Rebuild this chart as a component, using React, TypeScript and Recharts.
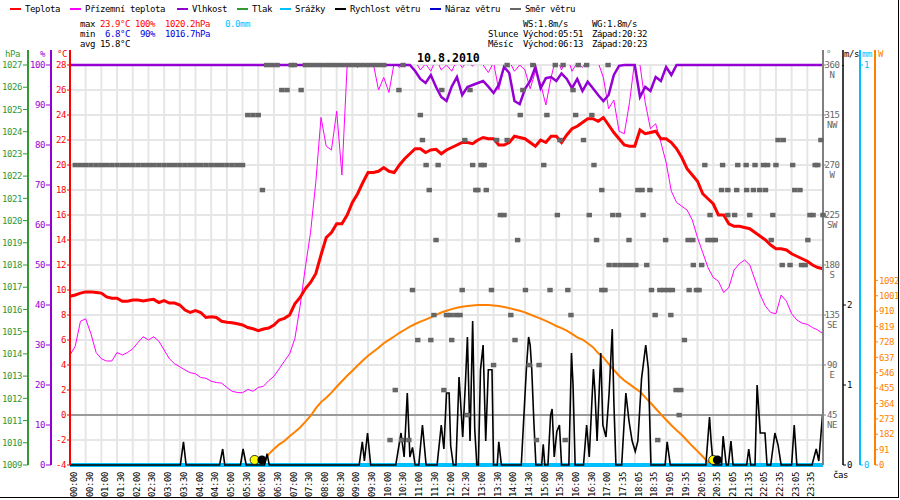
import React from "react";
import {
  ComposedChart,
  Line,
  Scatter,
  XAxis,
  YAxis,
  CartesianGrid,
  ReferenceLine,
} from "recharts";

const FONT = "'DejaVu Sans Mono', monospace";

// x axis: one slot = 10 minutes, label every 3 slots
const timeLabels = [
  "00:00", "00:30", "01:00", "01:30", "02:00", "02:30", "03:00", "03:30",
  "04:00", "04:30", "05:00", "05:30", "06:00", "06:30", "07:00", "07:30",
  "08:00", "08:30", "09:00", "09:30", "10:00", "10:30", "11:00", "11:30",
  "12:00", "12:30", "13:00", "13:30", "14:00", "14:30", "15:00", "15:30",
  "16:00", "16:30", "17:00", "17:35", "18:05", "18:35", "19:05", "19:35",
  "20:05", "20:35", "21:05", "21:35", "22:05", "22:35", "23:05", "23:35",
];

const tempTicks = [-4, -2, 0, 2, 4, 6, 8, 10, 12, 14, 16, 18, 20, 22, 24, 26, 28];
const humTicks = [0, 10, 20, 30, 40, 50, 60, 70, 80, 90, 100];
const hpaTicks = [1009, 1010, 1011, 1012, 1013, 1014, 1015, 1016, 1017, 1018, 1019, 1020, 1021, 1022, 1023, 1024, 1025, 1026, 1027];
const dirTicks = [45, 90, 135, 180, 225, 270, 315, 360];
const dirNames = ["NE", "E", "SE", "S", "SW", "W", "NW", "N"];
const msTicks = [0, 1, 2];
const mmTicks = [0, 1];
const wTicks = [0, 91, 182, 273, 364, 455, 546, 637, 728, 819, 910, 1001, 1092];

// °C, one value per 10-minute slot (0..144)
const temperature = [
  9.5, 9.6, 9.75, 9.85, 9.85, 9.8, 9.75, 9.45, 9.35, 9.35,
  9.1, 9.1, 9.2, 9.2, 9.12, 9.2, 9.25, 9.0, 9.15, 8.96,
  8.96, 8.8, 8.4, 8.2, 8.35, 8.2, 7.8, 7.85, 7.8, 7.5,
  7.42, 7.38, 7.3, 7.2, 7.0, 6.9, 6.75, 6.88, 6.96, 7.2,
  7.6, 7.73, 8.0, 8.9, 9.4, 10.1, 10.6, 11.3, 12.8, 14.2,
  14.6, 15.3, 15.3, 16.0, 17.0, 17.7, 18.6, 19.4, 19.4, 19.5,
  19.8, 19.5, 19.4, 20.0, 20.5, 20.9, 21.3, 21.3, 21.0, 21.2,
  21.25, 20.9, 21.2, 21.4, 21.6, 21.8, 21.8, 21.7, 22.0, 22.2,
  22.1, 22.1, 21.6, 21.6, 21.8, 22.3, 22.2, 22.1, 21.8, 21.5,
  22.0, 21.8, 22.3, 22.3, 21.8, 22.4, 22.9, 23.1, 23.4, 23.7,
  23.7, 23.5, 23.8, 23.2, 22.6, 22.1, 21.6, 21.5, 21.5, 22.8,
  22.5, 22.6, 22.7, 22.1, 22.1, 21.8, 21.3, 20.6, 19.7, 19.2,
  18.7, 17.7, 17.3, 16.9, 16.0, 16.0, 15.3, 15.1, 15.1, 15.0,
  14.9, 14.6, 14.3, 14.0, 13.6, 13.3, 13.3, 13.2, 12.9, 12.7,
  12.5, 12.3, 12.0, 11.8, 11.7,
];

const groundTemp = [
  4.8, 5.5, 7.5, 7.7, 6.5, 5.0, 4.5, 4.32, 4.32, 5.0,
  4.8, 5.0, 5.3, 5.8, 6.26, 6.0, 6.26, 5.9, 5.2, 4.5,
  4.1, 3.86, 3.6, 3.38, 3.3, 3.0, 2.94, 2.7, 2.6, 2.55,
  2.2, 1.9, 1.8, 1.78, 2.05, 1.9, 2.2, 2.3, 2.75, 3.1,
  3.7, 4.3, 4.9, 6.1, 8.7, 11.8, 14.6, 18.6, 23.8, 21.5,
  21.2, 24.3, 19.2, 28.0, 28.2, 27.8, 28.3, 28.5, 28.1, 26.0,
  27.0, 25.8, 28.2, 27.8, 28.6, 28.0, 28.3, 27.6, 28.1, 27.5,
  28.5, 27.6, 28.0, 27.5, 28.4, 27.8, 28.3, 27.9, 28.5, 28.0,
  27.4, 28.2, 26.0, 27.8, 28.3, 27.5, 28.0, 27.6, 26.1, 27.5,
  26.5, 24.8, 27.0, 28.7, 27.6, 28.8, 27.5, 28.2, 27.8, 28.5,
  28.6, 28.2, 27.0, 24.5, 25.2, 22.7, 22.5, 25.0, 28.4, 28.0,
  25.0, 22.9, 23.3, 21.8, 20.2, 17.9, 17.0, 16.7, 16.4, 15.6,
  14.2, 13.0, 11.8, 11.0, 10.7, 9.8, 10.2, 11.6, 12.1, 12.4,
  12.0, 10.8, 9.6, 8.7, 8.2, 8.1, 9.6, 9.1, 8.1, 7.6,
  7.35, 7.25, 7.0, 6.8, 6.5,
];

const humidity = [
  100, 100, 100, 100, 100, 100, 100, 100, 100, 100,
  100, 100, 100, 100, 100, 100, 100, 100, 100, 100,
  100, 100, 100, 100, 100, 100, 100, 100, 100, 100,
  100, 100, 100, 100, 100, 100, 100, 100, 100, 100,
  100, 100, 100, 100, 100, 100, 100, 100, 100, 100,
  100, 100, 100, 100, 100, 100, 100, 100, 100, 100,
  100, 100, 100, 100, 100, 100, 98.5, 96.5, 95.5, 97.5,
  94.5, 92, 91, 94.6, 97, 92.5, 94.5, 95, 95.5, 96,
  94.6, 93, 95, 99.5, 98, 91, 90.2, 94, 96, 99.5,
  94.2, 96.7, 97, 96, 97.9, 96.5, 94.2, 96.5, 93.5, 95.8,
  94.2, 92.5, 91, 92.5, 97.5, 99.8, 100, 100, 100, 92,
  94.5, 93.5, 97, 96, 99.5, 97.5, 100, 100, 100, 100,
  100, 100, 100, 100, 100, 100, 100, 100, 100, 100,
  100, 100, 100, 100, 100, 100, 100, 100, 100, 100,
  100, 100, 100, 100, 100,
];

// solar radiation W/m², from slot 37 (sunrise) to 123 (sunset)
const SOLAR_FIRST_SLOT = 37;
const solar = [
  15, 65, 95, 122, 142, 170, 195, 222, 255, 290,
  335, 372, 398, 428, 463, 495, 528, 558, 588, 618,
  646, 670, 693, 720, 740, 760, 782, 800, 818, 834,
  848, 860, 873, 888, 902, 912, 922, 930, 936, 940,
  944, 946, 946, 946, 943, 940, 935, 928, 920, 912,
  903, 890, 878, 866, 852, 838, 822, 810, 795, 776,
  755, 742, 720, 697, 662, 636, 598, 562, 528, 500,
  478, 455, 434, 400, 368, 334, 300, 268, 235, 205,
  178, 145, 112, 82, 50, 18, 0,
];

// [slot, m/s]
const windSpeed: [number, number][] = [
  [0, 0],
  [21.1, 0], [21.7, 0.29], [22.2, 0],
  [28.6, 0], [29.2, 0.2], [29.6, 0],
  [32.6, 0], [33.1, 0.2], [33.7, 0],
  [37.2, 0], [37.7, 0.14], [38.1, 0],
  [55.3, 0], [55.9, 0.29], [56.3, 0.05], [56.9, 0.4], [57.5, 0],
  [62.3, 0], [63.3, 0.4], [63.9, 0.1], [64.5, 0.9], [65, 0.1], [65.5, 0.22], [66, 0],
  [66.7, 0], [67.4, 0.5], [68.1, 0],
  [70.2, 0], [71, 0.5], [71.5, 0.2], [72, 0.9], [72.5, 0.9], [72.8, 0.24], [73.3, 0],
  [73.8, 0], [74.4, 1.1], [75.1, 0.35], [75.6, 1], [76, 1.6], [76.5, 0.3], [77, 1.8], [77.4, 0.45], [77.8, 0],
  [78.1, 0], [78.5, 1.19], [79, 1.5], [79.5, 0.3], [80, 1.19], [80.7, 1.19], [81, 0],
  [81.7, 0], [82, 0.29], [82.5, 0],
  [86.3, 0], [87.3, 1.23], [87.7, 1.6], [88, 1.5], [88.3, 1.2], [88.7, 0.55], [89.1, 0],
  [90.2, 0], [90.5, 0.26], [90.8, 0],
  [91.4, 0], [91.9, 0.62], [92.2, 0.7], [92.6, 0.1], [93.1, 0.42], [93.6, 0.5], [94, 0],
  [95.4, 0], [95.9, 1.4], [96.2, 1], [96.6, 0],
  [98.2, 0], [98.8, 0.5], [99.3, 0.1], [100.1, 1.2], [100.4, 0.9], [100.8, 0.3], [101.5, 1.4], [101.9, 0.5],
  [102.5, 0.35], [103.1, 0.9], [103.7, 1.7], [104, 0.8], [104.4, 0],
  [105.5, 0], [106.3, 0.9], [106.9, 0.55], [107.5, 0.3], [108.1, 0.17], [108.6, 0.3], [109.3, 1.08], [110.1, 1.5], [110.6, 1.2], [111.1, 0],
  [113.8, 0], [114.2, 0.29], [114.8, 0],
  [121.6, 0], [122.3, 0.6], [122.6, 0.3], [123, 0],
  [124.6, 0], [124.9, 0.36], [125.5, 0],
  [125.9, 0], [126.4, 0.3], [126.8, 0],
  [129.4, 0], [129.8, 0.2], [130.2, 0],
  [131, 0], [131.4, 1], [132, 0.4], [132.9, 0.4], [133.3, 0],
  [134, 0], [134.8, 0.4], [135.4, 0.25], [136, 0],
  [138, 0], [138.5, 0.5], [139, 0],
  [141.9, 0], [142.7, 0.2], [143.2, 0.05], [143.9, 0.62],
];

// [slot, degrees]
const windDirection: [number, number][] = [
  [1, 270], [2, 270], [3, 270], [4, 270], [5, 270], [6, 270], [7, 270], [8, 270], [9, 270], [10, 270],
  [11, 270], [12, 270], [13, 270], [14, 270], [15, 270], [16, 270], [17, 270], [18, 270], [19, 270], [20, 270],
  [21, 270], [22, 270], [23, 270], [24, 270], [25, 270], [26, 270], [27, 270], [28, 270], [29, 270], [30, 270],
  [31, 270], [32, 270], [33, 270],
  [34, 315], [35, 315], [36, 315], [36.8, 247.5],
  [37.6, 360], [38.6, 360], [39.6, 360], [40.5, 337.5], [41.5, 337.5], [42.3, 360], [42.9, 360], [44.2, 337.5],
  [45, 360], [46, 360], [47, 360], [48, 360], [49, 360], [50, 360], [51, 360], [52, 360],
  [53, 360], [54, 360], [55, 360], [56, 360], [57, 360], [58, 360], [59, 360], [60, 360],
  [61.2, 22.5], [62.2, 67.5], [62.9, 337.5], [63.4, 22.5], [63.7, 360], [64.8, 22.5], [65.5, 157.5], [66.5, 112.5],
  [67, 315], [67.4, 292.5], [68.1, 270], [68.7, 247.5], [69, 112.5], [69.6, 135], [70, 202.5], [70.4, 270],
  [71.1, 337.5], [71.5, 67.5], [72, 135], [72.8, 135], [73, 112.5], [73.8, 135], [74.6, 135], [75, 157.5],
  [75.5, 292.5], [76, 45], [76.5, 337.5], [77, 270], [77.6, 247.5], [78, 247.5], [78.6, 270], [79.2, 270],
  [79.6, 247.5], [80.6, 157.5], [81, 90], [81.6, 292.5], [82.3, 225], [83, 225], [83.6, 360], [83.6, 292.5],
  [84.3, 135], [85.1, 112.5], [85.6, 202.5], [86.1, 315], [86.6, 337.5], [87.1, 157.5], [87.8, 90], [88.5, 360],
  [89.2, 22.5], [89.7, 90], [90.6, 270], [91.2, 315], [91.8, 157.5], [92.8, 360], [93.2, 225], [93.7, 292.5],
  [94.3, 360], [94.7, 22.5], [95.2, 157.5], [95.8, 135], [96.2, 337.5], [96.7, 315], [97.2, 360], [98.2, 292.5],
  [98.8, 360], [99.3, 225], [99.8, 315], [100.2, 270], [100.7, 202.5], [101.7, 247.5], [101.7, 157.5], [102.3, 157.5],
  [102.9, 360], [103.1, 180], [103.8, 225], [104.2, 180], [104.9, 225], [105.2, 180], [106.2, 180], [106.9, 202.5],
  [107.2, 180], [108.2, 180], [108.6, 247.5], [109.4, 247.5], [109.6, 225], [110.3, 180], [110.9, 247.5], [111.2, 157.5],
  [111.9, 135], [112.4, 22.5], [112.8, 157.5], [113.6, 157.5], [113.9, 202.5], [114.4, 157.5], [114.9, 135], [115.2, 157.5],
  [115.9, 67.5], [116.5, 45], [116.8, 67.5], [117.5, 112.5], [118.2, 202.5], [118.4, 157.5], [119.1, 202.5], [119.2, 180],
  [119.8, 157.5], [120.3, 157.5], [120.8, 180], [121.4, 270], [122, 202.5], [122.4, 225], [122.8, 202.5], [123.4, 202.5],
  [124.6, 247.5], [124.8, 270], [125.8, 247.5], [125.8, 225], [127.1, 225], [127.5, 247.5], [127.7, 270], [129.3, 270],
  [129.4, 247.5], [130, 225], [130.7, 247.5], [131, 270], [131.9, 247.5], [132.6, 270], [133, 247.5], [133.4, 270],
  [134.1, 202.5], [134.4, 225], [135, 270], [135.4, 292.5], [136.2, 180], [136.4, 292.5], [137.7, 180], [138.2, 270],
  [138.6, 247.5], [139.6, 247.5], [139.9, 180], [140.6, 180], [141.1, 202.5], [141.5, 225], [142.1, 225], [142.5, 270],
  [143, 270], [143.6, 292.5], [144, 225],
];

// rain: 0.0 mm all day
const rain: [number, number][] = [[0, 0], [144, 0]];

// sunrise / moonrise / sunset / moonset markers on the base line
const astroSlots = [35.3, 36.7, 123.0, 123.8];
const astroKinds = ["sun", "moon", "sun", "moon"];

const txt = { fontFamily: FONT, fontSize: 9, letterSpacing: -0.42 } as const;

// axis ids sort innermost first on each side
const Y_TEMP = "l1_temp";
const Y_HUM = "l2_hum";
const Y_HPA = "l3_hpa";
const Y_DIR = "r1_dir";
const Y_MS = "r2_ms";
const Y_MM = "r3_mm";
const Y_W = "r4_w";

function makeTick(color: string, anchor: "start" | "end") {
  return (props: any) => (
    <text x={props.x} y={props.y} dy={3.2} textAnchor={anchor} fill={color} {...txt}>
      {props.payload.value}
    </text>
  );
}

const DirTick = (props: any) => {
  const i = dirTicks.indexOf(props.payload.value);
  return (
    <g fill="#666666" {...txt}>
      <text x={props.x + 6} y={props.y} dy={3.2} textAnchor="middle">{props.payload.value}</text>
      <text x={props.x + 6} y={props.y} dy={12.5} textAnchor="middle">{dirNames[i]}</text>
    </g>
  );
};

const TimeTick = (props: any) => {
  const label = timeLabels[Math.round(props.payload.value / 3)];
  const ax = props.x + 7;
  return (
    <text x={ax} y={props.y} transform={`rotate(-90 ${ax} ${props.y})`} textAnchor="end" fill="#000" {...txt}>
      {label}
    </text>
  );
};

const DirSquare = (p: any) => <rect x={p.cx - 2.7} y={p.cy - 2.2} width={5.4} height={4.5} fill="#666666" />;

const AstroMark = (p: any) =>
  p.payload.kind === "sun" ? (
    <circle cx={p.cx} cy={p.cy} r={4.5} fill="#ffff00" stroke="#000" strokeWidth={0.8} />
  ) : (
    <circle cx={p.cx} cy={p.cy} r={4.5} fill="#000" />
  );

const legend = [
  { label: "Teplota", color: "#ff0000", x: 10 },
  { label: "Přízemní teplota", color: "#ff00ff", x: 70 },
  { label: "Vlhkost", color: "#9400d3", x: 177 },
  { label: "Tlak", color: "#339933", x: 237 },
  { label: "Srážky", color: "#00bfff", x: 280 },
  { label: "Rychlost větru", color: "#000000", x: 335 },
  { label: "Náraz větru", color: "#0000cc", x: 430 },
  { label: "Směr větru", color: "#666666", x: 510 },
];

export default function App() {
  const rows = temperature.map((temp, i) => ({
    t: i,
    temp,
    ground: groundTemp[i],
    hum: humidity[i],
    solar: i >= SOLAR_FIRST_SLOT && i < SOLAR_FIRST_SLOT + solar.length ? solar[i - SOLAR_FIRST_SLOT] : null,
  }));
  const windData = windSpeed.map(([t, v]) => ({ t, v }));
  const dirData = windDirection.map(([t, d]) => ({ t, d }));
  const rainData = rain.map(([t, mm]) => ({ t, mm }));
  const astroData = astroSlots.map((t, i) => ({ t, w: 30, kind: astroKinds[i] }));
  const xTicks = timeLabels.map((_, i) => i * 3);

  return (
    <div style={{ position: "absolute", left: 0, top: 0, width: 900, height: 500, background: "#fff" }}>
      <ComposedChart width={900} height={500} data={rows} margin={{ top: 65, right: 0, bottom: 0, left: 0 }}>
        <CartesianGrid yAxisId={Y_TEMP} stroke="#e6e6e6" strokeWidth={2} />
        <XAxis
          dataKey="t"
          type="number"
          domain={[0, 144]}
          ticks={xTicks}
          interval={0}
          height={35}
          axisLine={false}
          tickLine={false}
          tickSize={0}
          tickMargin={7}
          tick={<TimeTick />}
        />
        <YAxis yAxisId={Y_TEMP} width={19} domain={[-4, 28]} ticks={tempTicks} interval={0} allowDataOverflow
          axisLine={{ stroke: "#ff0000", strokeWidth: 2 }} tickLine={{ stroke: "#ff0000" }} tickSize={3} tickMargin={1}
          tick={makeTick("#ff0000", "end")} />
        <YAxis yAxisId={Y_HUM} width={23} domain={[0, 100]} ticks={humTicks} interval={0}
          axisLine={{ stroke: "#9400d3", strokeWidth: 2 }} tickLine={{ stroke: "#9400d3" }} tickSize={5} tickMargin={1}
          tick={makeTick("#9400d3", "end")} />
        <YAxis yAxisId={Y_HPA} width={28} domain={[1009, 1027]} ticks={hpaTicks} interval={0} allowDataOverflow
          axisLine={{ stroke: "#339933", strokeWidth: 2 }} tickLine={{ stroke: "#339933" }} tickSize={5} tickMargin={1}
          tick={makeTick("#339933", "end")} />
        <YAxis yAxisId={Y_DIR} orientation="right" width={20} domain={[0, 360]} ticks={dirTicks} interval={0}
          axisLine={{ stroke: "#808080", strokeWidth: 2 }} tickLine={{ stroke: "#808080" }} tickSize={3} tickMargin={0}
          tick={<DirTick />} />
        <YAxis yAxisId={Y_MS} orientation="right" width={17} domain={[0, 5]} ticks={msTicks} interval={0}
          axisLine={{ stroke: "#000", strokeWidth: 1.5 }} tickLine={{ stroke: "#000" }} tickSize={3} tickMargin={1}
          tick={makeTick("#000", "start")} />
        <YAxis yAxisId={Y_MM} orientation="right" width={15} domain={[0, 1]} ticks={mmTicks} interval={0}
          axisLine={{ stroke: "#00bfff", strokeWidth: 2 }} tickLine={{ stroke: "#00bfff" }} tickSize={3} tickMargin={1}
          tick={makeTick("#00bfff", "start")} />
        <YAxis yAxisId={Y_W} orientation="right" width={25} domain={[0, 2366]} ticks={wTicks} interval={0}
          axisLine={{ stroke: "#ff8000", strokeWidth: 2 }} tickLine={{ stroke: "#ff8000" }} tickSize={3} tickMargin={1}
          tick={makeTick("#ff8000", "start")} />

        <ReferenceLine yAxisId={Y_TEMP} y={0} stroke="#808080" strokeWidth={1.5} />

        <Line yAxisId={Y_W} dataKey="solar" stroke="#ff8000" strokeWidth={2} dot={false} activeDot={false} isAnimationActive={false} />
        <Line yAxisId={Y_TEMP} dataKey="ground" stroke="#ff00ff" strokeWidth={1} dot={false} activeDot={false} isAnimationActive={false} />
        <Scatter yAxisId={Y_DIR} data={dirData} dataKey="d" shape={DirSquare} isAnimationActive={false} />
        <Line yAxisId={Y_HUM} dataKey="hum" stroke="#9400d3" strokeWidth={2.5} dot={false} activeDot={false} isAnimationActive={false} />
        <Line yAxisId={Y_TEMP} dataKey="temp" stroke="#ff0000" strokeWidth={3} dot={false} activeDot={false} isAnimationActive={false} />
        <Line yAxisId={Y_MM} data={rainData} dataKey="mm" stroke="#00bfff" strokeWidth={4} dot={false} activeDot={false} isAnimationActive={false} />
        <Line yAxisId={Y_MS} data={windData} dataKey="v" stroke="#000" strokeWidth={1.6} dot={false} activeDot={false} isAnimationActive={false} />
        <Scatter yAxisId={Y_W} data={astroData} dataKey="w" shape={AstroMark} isAnimationActive={false} />
      </ComposedChart>

      <svg width={900} height={500} style={{ position: "absolute", left: 0, top: 0, pointerEvents: "none" }}>
        {legend.map((l) => (
          <g key={l.label}>
            <line x1={l.x} x2={l.x + 11} y1={9} y2={9} stroke={l.color} strokeWidth={2} />
            <text x={l.x + 15} y={12} fill="#000" {...txt}>{l.label}</text>
          </g>
        ))}

        <g {...txt}>
          <text x={80} y={27} fill="#000">max</text>
          <text x={100} y={27} fill="#ff0000">23.9°C</text>
          <text x={135} y={27} fill="#ff0000">100%</text>
          <text x={165} y={27} fill="#ff0000">1020.2hPa</text>
          <text x={225} y={27} fill="#00bfff">0.0mm</text>
          <text x={80} y={37} fill="#000">min</text>
          <text x={105} y={37} fill="#0000dd">6.8°C</text>
          <text x={140} y={37} fill="#0000dd">90%</text>
          <text x={165} y={37} fill="#0000dd">1016.7hPa</text>
          <text x={80} y={46.5} fill="#000">avg 15.8°C</text>

          <text x={523} y={27} fill="#000">WS:1.8m/s</text>
          <text x={592} y={27} fill="#000">WG:1.8m/s</text>
          <text x={488} y={37} fill="#000">Slunce</text>
          <text x={523} y={37} fill="#000">Východ:05:51</text>
          <text x={592} y={37} fill="#000">Západ:20:32</text>
          <text x={488} y={46.5} fill="#000">Měsíc</text>
          <text x={523} y={46.5} fill="#000">Východ:06:13</text>
          <text x={592} y={46.5} fill="#000">Západ:20:23</text>

          <text x={5} y={57} fill="#339933">hPa</text>
          <text x={40} y={57} fill="#9400d3">%</text>
          <text x={57} y={57} fill="#ff0000">°C</text>
          <text x={826} y={57} fill="#808080">°</text>
          <text x={844} y={57} fill="#000">m/s</text>
          <text x={862} y={57} fill="#00bfff">mm</text>
          <text x={878} y={57} fill="#ff8000">W</text>
          <text x={833} y={478} fill="#000">čas</text>
        </g>

        <text x={417} y={62} fontFamily={FONT} fontSize={11.6} fontWeight="bold" fill="#000">10.8.2010</text>

        <line x1={28} x2={28} y1={50} y2={66} stroke="#339933" strokeWidth={2} />
        <line x1={51} x2={51} y1={50} y2={66} stroke="#9400d3" strokeWidth={2} />
        <line x1={70} x2={70} y1={50} y2={66} stroke="#ff0000" strokeWidth={2} />
        <line x1={823} x2={823} y1={50} y2={66} stroke="#808080" strokeWidth={2} />
        <line x1={843} x2={843} y1={50} y2={66} stroke="#000" strokeWidth={1.5} />
        <line x1={860} x2={860} y1={50} y2={66} stroke="#00bfff" strokeWidth={2} />
        <line x1={875} x2={875} y1={50} y2={66} stroke="#ff8000" strokeWidth={2} />
        <line x1={898.5} x2={898.5} y1={0} y2={498} stroke="#000" strokeWidth={1} />
        <line x1={0} x2={899} y1={497.5} y2={497.5} stroke="#000" strokeWidth={1} />
      </svg>
    </div>
  );
}
